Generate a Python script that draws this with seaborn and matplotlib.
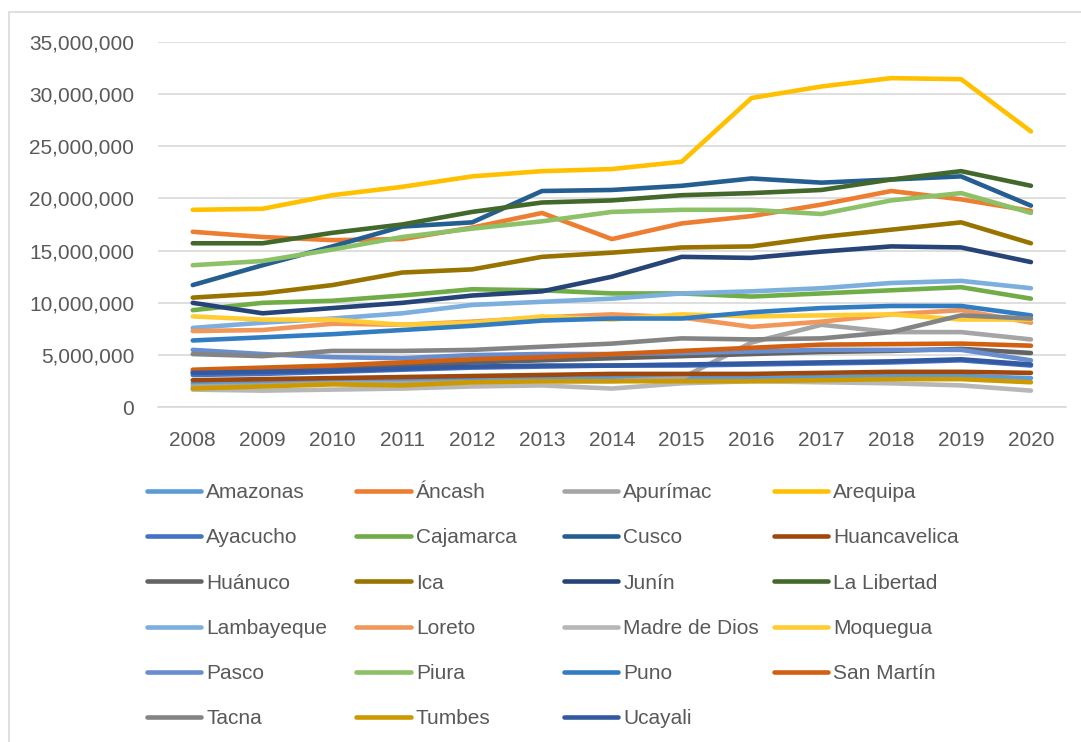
import pandas as pd
import seaborn as sns
import matplotlib.pyplot as plt
from matplotlib.lines import Line2D
from matplotlib.patches import Rectangle
from matplotlib.ticker import FuncFormatter

# years on the x axis
years = [2008, 2009, 2010, 2011, 2012, 2013, 2014, 2015, 2016, 2017, 2018, 2019, 2020]

# values per region, in millions
amazonas = [2.3, 2.4, 2.5, 2.6, 2.7, 2.7, 2.8, 2.8, 2.8, 2.9, 3.0, 3.0, 2.8]
ancash = [16.8, 16.3, 16.0, 16.1, 17.2, 18.6, 16.1, 17.6, 18.3, 19.4, 20.7, 19.9, 18.8]
apurimac = [2.0, 2.1, 2.3, 2.3, 2.4, 2.5, 2.5, 2.8, 6.2, 7.9, 7.2, 7.2, 6.5]
arequipa = [18.9, 19.0, 20.3, 21.1, 22.1, 22.6, 22.8, 23.5, 29.6, 30.7, 31.5, 31.4, 26.4]
ayacucho = [3.1, 3.2, 3.4, 3.6, 3.8, 3.9, 4.0, 4.0, 4.1, 4.2, 4.3, 4.5, 4.0]
cajamarca = [9.3, 10.0, 10.2, 10.7, 11.3, 11.2, 10.9, 10.9, 10.6, 10.9, 11.2, 11.5, 10.4]
cusco = [11.7, 13.6, 15.4, 17.3, 17.7, 20.7, 20.8, 21.2, 21.9, 21.5, 21.8, 22.1, 19.3]
huancavelica = [2.6, 2.7, 2.8, 2.9, 3.0, 3.1, 3.2, 3.2, 3.2, 3.3, 3.4, 3.4, 3.3]
huanuco = [3.4, 3.6, 3.8, 4.0, 4.3, 4.5, 4.7, 4.9, 5.1, 5.3, 5.4, 5.6, 5.2]
ica = [10.5, 10.9, 11.7, 12.9, 13.2, 14.4, 14.8, 15.3, 15.4, 16.3, 17.0, 17.7, 15.7]
junin = [10.0, 9.0, 9.5, 10.0, 10.7, 11.1, 12.5, 14.4, 14.3, 14.9, 15.4, 15.3, 13.9]
la_libertad = [15.7, 15.7, 16.7, 17.5, 18.7, 19.6, 19.8, 20.3, 20.5, 20.8, 21.8, 22.6, 21.2]
lambayeque = [7.6, 8.1, 8.5, 9.0, 9.8, 10.1, 10.4, 10.9, 11.1, 11.4, 11.9, 12.1, 11.4]
loreto = [7.3, 7.4, 8.0, 7.9, 8.2, 8.6, 8.9, 8.6, 7.7, 8.2, 8.9, 9.3, 8.1]
madre_de_dios = [1.7, 1.6, 1.7, 1.8, 2.0, 2.1, 1.8, 2.3, 2.5, 2.4, 2.3, 2.1, 1.6]
moquegua = [8.7, 8.4, 8.4, 7.9, 8.1, 8.7, 8.4, 8.9, 8.7, 8.8, 8.9, 8.4, 8.4]
pasco = [5.5, 5.1, 4.8, 4.7, 5.0, 5.1, 5.1, 5.2, 5.35, 5.5, 5.5, 5.5, 4.5]
piura = [13.6, 14.0, 15.1, 16.3, 17.1, 17.8, 18.7, 18.9, 18.9, 18.5, 19.8, 20.5, 18.6]
puno = [6.4, 6.7, 7.0, 7.4, 7.8, 8.3, 8.5, 8.5, 9.1, 9.5, 9.7, 9.7, 8.8]
san_martin = [3.6, 3.8, 4.0, 4.3, 4.6, 4.8, 5.1, 5.4, 5.7, 6.0, 6.05, 6.1, 5.9]
tacna = [5.1, 4.9, 5.4, 5.4, 5.5, 5.8, 6.1, 6.6, 6.5, 6.6, 7.2, 8.8, 8.5]
tumbes = [1.8, 2.0, 2.2, 2.1, 2.4, 2.5, 2.5, 2.5, 2.5, 2.6, 2.7, 2.7, 2.4]
ucayali = [3.3, 3.4, 3.5, 3.7, 3.9, 4.0, 4.0, 4.1, 4.2, 4.3, 4.4, 4.6, 4.1]

regions = ['Amazonas', 'Áncash', 'Apurímac', 'Arequipa', 'Ayacucho', 'Cajamarca',
           'Cusco', 'Huancavelica', 'Huánuco', 'Ica', 'Junín', 'La Libertad',
           'Lambayeque', 'Loreto', 'Madre de Dios', 'Moquegua', 'Pasco', 'Piura',
           'Puno', 'San Martín', 'Tacna', 'Tumbes', 'Ucayali']
series = [amazonas, ancash, apurimac, arequipa, ayacucho, cajamarca, cusco,
          huancavelica, huanuco, ica, junin, la_libertad, lambayeque, loreto,
          madre_de_dios, moquegua, pasco, piura, puno, san_martin, tacna,
          tumbes, ucayali]

# excel-like series colours
colors = ['#5B9BD5', '#ED7D31', '#A5A5A5', '#FFC000', '#4472C4', '#70AD47',
          '#255E91', '#9E480E', '#636363', '#997300', '#264478', '#43682B',
          '#7CAFDD', '#F1975A', '#B7B7B7', '#FFCD33', '#698ED0', '#8CC168',
          '#327DC2', '#D26012', '#848484', '#CC9A00', '#335AA1']
palette = dict(zip(regions, colors))

# long table for seaborn
rows = []
for name, vals in zip(regions, series):
    for i, v in enumerate(vals):
        rows.append({'Region': name, 'idx': i, 'Value': v * 1e6})
df = pd.DataFrame(rows)

#%%
sns.set_style('white')
plt.rcParams['font.family'] = ['Liberation Sans', 'DejaVu Sans']
text_col = '#595959'

fig = plt.figure(figsize=(10.81, 7.42), dpi=100)
ax = fig.add_axes([0.146, 0.451, 0.840, 0.493])

sns.lineplot(data=df, x='idx', y='Value', hue='Region', hue_order=regions,
             palette=palette, linewidth=3.3, legend=False, ax=ax,
             solid_capstyle='round', solid_joinstyle='round')

ax.set_xlim(-0.5, len(years) - 0.5)
ax.set_ylim(0, 35e6)
ax.set_yticks(range(0, 35000001, 5000000))
ax.yaxis.set_major_formatter(FuncFormatter(lambda v, p: f'{v:,.0f}'))
ax.set_xticks(range(len(years)))
ax.set_xticklabels([str(y) for y in years])
ax.set_xlabel('')
ax.set_ylabel('')
ax.grid(axis='y', color='#D9D9D9', linewidth=1.2)
ax.set_axisbelow(True)
for s in ['top', 'right', 'left']:
    ax.spines[s].set_visible(False)
ax.spines['bottom'].set_color('#D9D9D9')
ax.spines['bottom'].set_linewidth(1.2)
ax.tick_params(axis='y', length=0, pad=17, labelsize=15, labelcolor=text_col)
ax.tick_params(axis='x', length=0, pad=17, labelsize=15, labelcolor=text_col)

# legend: 4 columns filled row by row, one legend per column
col_x = [0.128, 0.322, 0.514, 0.708]
for c in range(4):
    names = regions[c::4]
    handles = [Line2D([0], [0], color=palette[n], linewidth=3.3,
                      solid_capstyle='round') for n in names]
    leg = fig.legend(handles, names, loc='upper left',
                     bbox_to_anchor=(col_x[c], 0.36), frameon=False,
                     fontsize=15, labelcolor=text_col, handlelength=2.6,
                     handletextpad=0.25, labelspacing=1.26, borderaxespad=0)

# chart border (right and bottom edges fall outside the picture)
fig.patches.append(Rectangle((0.0083, -0.01), 1.0, 0.994, transform=fig.transFigure,
                             fill=False, edgecolor='#D9D9D9', linewidth=1.2))

fig.savefig('out.png', dpi=100)
